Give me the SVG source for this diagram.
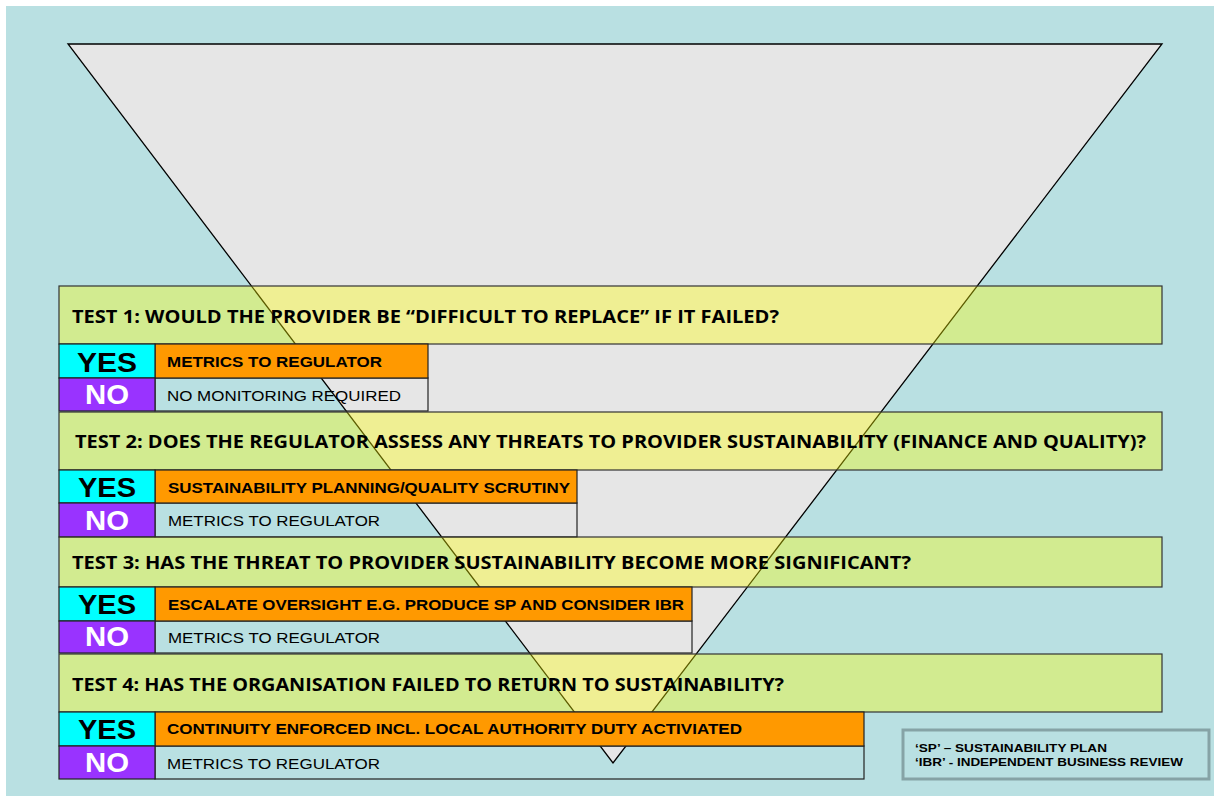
<svg xmlns="http://www.w3.org/2000/svg" width="1214" height="796" viewBox="0 0 1214 796">
<style>
.bar{fill:#ffff00;fill-opacity:0.36;stroke:#333;stroke-width:1.2}
.q{font-family:"Open Sans","Liberation Sans",sans-serif;font-weight:bold;font-size:17.5px;fill:#000}
.yes{fill:#00ffff;stroke:#222;stroke-width:1.2}
.no{fill:#9933ff;stroke:#222;stroke-width:1.2}
.act{fill:#ff9900;stroke:#222;stroke-width:1.2}
.out{fill:none;stroke:#222;stroke-width:1.2}
.yt{font-family:"Liberation Sans",Arial,sans-serif;font-weight:bold;font-size:28px;fill:#000;text-anchor:middle}
.nt{font-family:"Liberation Sans",Arial,sans-serif;font-weight:bold;font-size:28px;fill:#fff;text-anchor:middle}
.at{font-family:"Liberation Sans",Arial,sans-serif;font-weight:bold;font-size:14px;fill:#000}
.mt{font-family:"Liberation Sans",Arial,sans-serif;font-size:15px;fill:#000}
.lt{font-family:"Liberation Sans",Arial,sans-serif;font-weight:bold;font-size:10.5px;fill:#000}
</style>
<rect x="0" y="0" width="1214" height="796" fill="#ffffff"/>
<rect x="6" y="6" width="1208" height="790" fill="#b9e0e2"/>
<g id="funnel">
<polygon points="68,44 1162,44 613,763" fill="#e6e6e6" stroke="#000" stroke-width="1.3"/>
</g>
<g id="connectors"></g>
<g id="test1">
<rect class="bar" x="59" y="286" width="1103" height="58"/>
<text class="q" x="72" y="323" textLength="707" lengthAdjust="spacingAndGlyphs">TEST 1: WOULD THE PROVIDER BE “DIFFICULT TO REPLACE” IF IT FAILED?</text>
<rect class="out" x="155" y="378" width="273" height="33"/>
<rect class="act" x="155" y="344" width="273" height="34"/>
<rect class="yes" x="59" y="344" width="96" height="34"/>
<rect class="no" x="59" y="378" width="96" height="33"/>
<text class="yt" x="107" y="372" textLength="60" lengthAdjust="spacingAndGlyphs">YES</text>
<text class="nt" x="107" y="404" textLength="44" lengthAdjust="spacingAndGlyphs">NO</text>
<text class="at" x="167" y="367" textLength="215" lengthAdjust="spacingAndGlyphs">METRICS TO REGULATOR</text>
<text class="mt" x="167" y="401" textLength="234" lengthAdjust="spacingAndGlyphs">NO MONITORING REQUIRED</text>
</g>
<g id="test2">
<rect class="bar" x="59" y="412" width="1103" height="58"/>
<text class="q" x="75" y="448" textLength="1071" lengthAdjust="spacingAndGlyphs">TEST 2: DOES THE REGULATOR ASSESS ANY THREATS TO PROVIDER SUSTAINABILITY (FINANCE AND QUALITY)?</text>
<rect class="out" x="155" y="503" width="422" height="34"/>
<rect class="act" x="155" y="470" width="422" height="33"/>
<rect class="yes" x="59" y="470" width="96" height="33"/>
<rect class="no" x="59" y="503" width="96" height="34"/>
<text class="yt" x="107" y="497" textLength="58" lengthAdjust="spacingAndGlyphs">YES</text>
<text class="nt" x="107" y="530" textLength="44" lengthAdjust="spacingAndGlyphs">NO</text>
<text class="at" x="168" y="493" textLength="402" lengthAdjust="spacingAndGlyphs">SUSTAINABILITY PLANNING/QUALITY SCRUTINY</text>
<text class="mt" x="168" y="526" textLength="212" lengthAdjust="spacingAndGlyphs">METRICS TO REGULATOR</text>
</g>
<g id="test3">
<rect class="bar" x="59" y="537" width="1103" height="50"/>
<text class="q" x="72" y="569" textLength="839" lengthAdjust="spacingAndGlyphs">TEST 3: HAS THE THREAT TO PROVIDER SUSTAINABILITY BECOME MORE SIGNIFICANT?</text>
<rect class="out" x="155" y="621" width="537" height="32"/>
<rect class="act" x="155" y="587" width="537" height="34"/>
<rect class="yes" x="59" y="587" width="96" height="34"/>
<rect class="no" x="59" y="621" width="96" height="32"/>
<text class="yt" x="107" y="614" textLength="58" lengthAdjust="spacingAndGlyphs">YES</text>
<text class="nt" x="107" y="646" textLength="44" lengthAdjust="spacingAndGlyphs">NO</text>
<text class="at" x="168" y="610" textLength="516" lengthAdjust="spacingAndGlyphs">ESCALATE OVERSIGHT E.G. PRODUCE SP AND CONSIDER IBR</text>
<text class="mt" x="168" y="643" textLength="212" lengthAdjust="spacingAndGlyphs">METRICS TO REGULATOR</text>
</g>
<g id="test4">
<rect class="bar" x="59" y="654" width="1103" height="58"/>
<text class="q" x="72" y="691" textLength="712" lengthAdjust="spacingAndGlyphs">TEST 4: HAS THE ORGANISATION FAILED TO RETURN TO SUSTAINABILITY?</text>
<rect class="out" x="155" y="746" width="709" height="33"/>
<rect class="act" x="155" y="712" width="709" height="34"/>
<rect class="yes" x="59" y="712" width="96" height="34"/>
<rect class="no" x="59" y="746" width="96" height="33"/>
<text class="yt" x="107" y="739" textLength="58" lengthAdjust="spacingAndGlyphs">YES</text>
<text class="nt" x="107" y="772" textLength="44" lengthAdjust="spacingAndGlyphs">NO</text>
<text class="at" x="167" y="734" textLength="575" lengthAdjust="spacingAndGlyphs">CONTINUITY ENFORCED INCL. LOCAL AUTHORITY DUTY ACTIVIATED</text>
<text class="mt" x="167" y="769" textLength="213" lengthAdjust="spacingAndGlyphs">METRICS TO REGULATOR</text>
</g>
<g id="legend">
<rect x="903" y="730" width="306" height="49" fill="#b9e0e2" stroke="#86a3a6" stroke-width="3"/>
<text class="lt" x="915" y="752" textLength="192" lengthAdjust="spacingAndGlyphs">‘SP’ – SUSTAINABILITY PLAN</text>
<text class="lt" x="915" y="766" textLength="268" lengthAdjust="spacingAndGlyphs">‘IBR’ - INDEPENDENT BUSINESS REVIEW</text>
</g>
</svg>
